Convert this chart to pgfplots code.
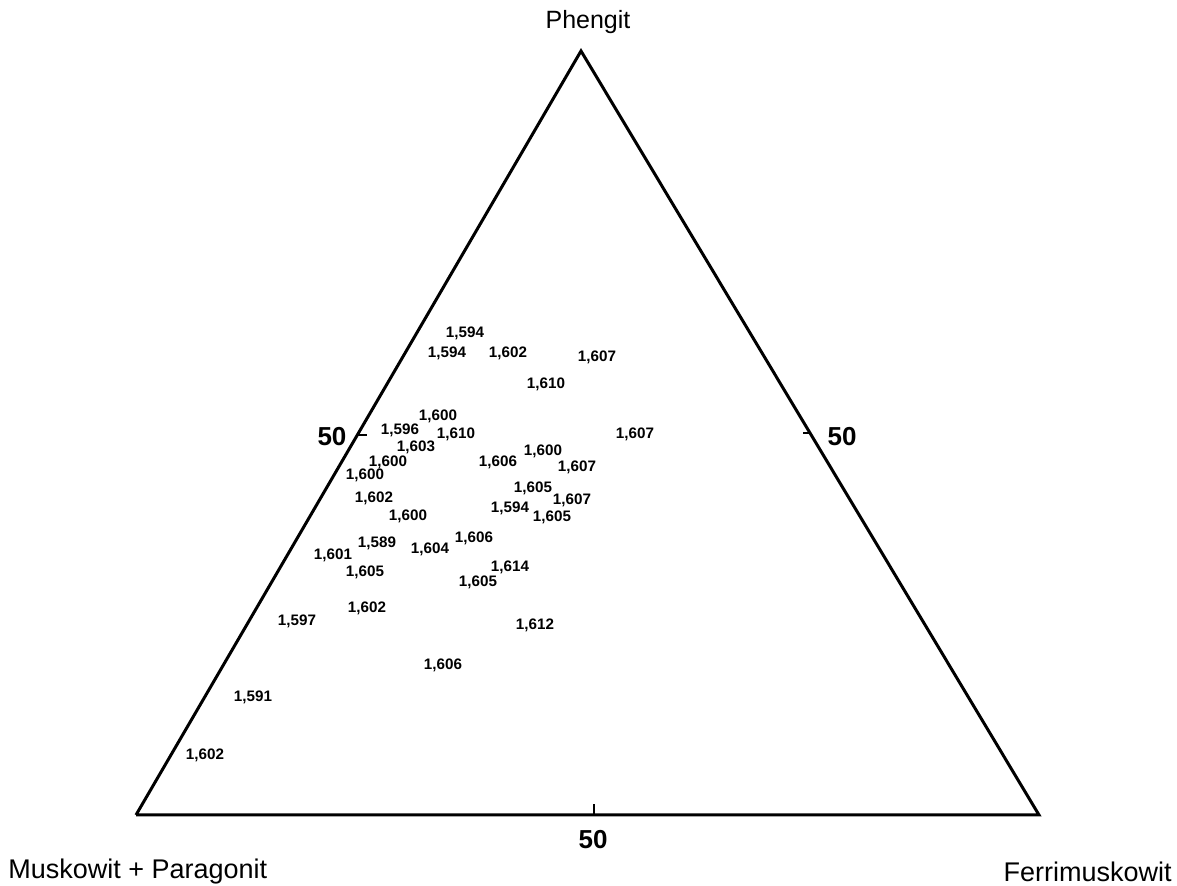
\documentclass[border=0pt]{standalone}
\usepackage{fontspec}
\setmainfont{Liberation Sans}
\usepackage{pgfplots}
\pgfplotsset{compat=1.18}
\usepackage{pgfplotstable}

% label positions (picture coordinates) and refractive index n_gamma
\pgfplotstableread{
x   y   n
465 553 1,594
447 533 1,594
508 533 1,602
597 529 1,607
546 502 1,610
438 470 1,600
400 456 1,596
456 452 1,610
635 452 1,607
416 439 1,603
543 435 1,600
498 424 1,606
388 424 1,600
577 419 1,607
365 411 1,600
533 398 1,605
572 386 1,607
374 388 1,602
510 378 1,594
552 369 1,605
408 370 1,600
377 343 1,589
430 337 1,604
474 348 1,606
333 331 1,601
510 319 1,614
365 314 1,605
478 304 1,605
367 278 1,602
297 265 1,597
535 261 1,612
443 221 1,606
253 189 1,591
205 131 1,602
}\werte

\begin{document}
\begin{tikzpicture}
  \begin{axis}[
      width=588.5pt, height=443pt,
      scale only axis,
      xmin=0, xmax=1177, ymin=0, ymax=886,
      hide axis,
      clip=false,
    ]
    % triangle
    \addplot[black, line width=1.5pt, line join=miter] coordinates {
      (136,71) (1039,71) (581,835) (136,71)
    };
    % 50 ticks
    \addplot[black, line width=1.2pt] coordinates {(594,71) (594,82)};
    \addplot[black, line width=1.2pt] coordinates {(358,451) (367,451)};
    \addplot[black, line width=1.2pt] coordinates {(810,453) (803,453)};
    % values
    \addplot[draw=none, nodes near coords, point meta=explicit symbolic,
      every node near coord/.style={anchor=center, inner sep=0pt,
        font=\bfseries\fontsize{7.6}{9}\selectfont}]
      table[x=x, y=y, meta=n] {\werte};

    \node[font=\fontsize{12.5}{14}\selectfont] at (axis cs:588,864) {Phengit};
    \node[font=\bfseries\fontsize{13}{15}\selectfont] at (axis cs:332,449) {50};
    \node[font=\bfseries\fontsize{13}{15}\selectfont] at (axis cs:842,449) {50};
    \node[font=\bfseries\fontsize{13}{15}\selectfont] at (axis cs:593,46) {50};
    \node[font=\fontsize{13.5}{15}\selectfont, anchor=west, inner sep=0pt]
      at (axis cs:8,14) {Muskowit + Paragonit};
    \node[font=\fontsize{13.5}{15}\selectfont, anchor=east, inner sep=0pt]
      at (axis cs:1172,14) {Ferrimuskowit};
  \end{axis}
  \pgfresetboundingbox
  \path (current axis.south west) rectangle (current axis.north east);
\end{tikzpicture}
\end{document}
